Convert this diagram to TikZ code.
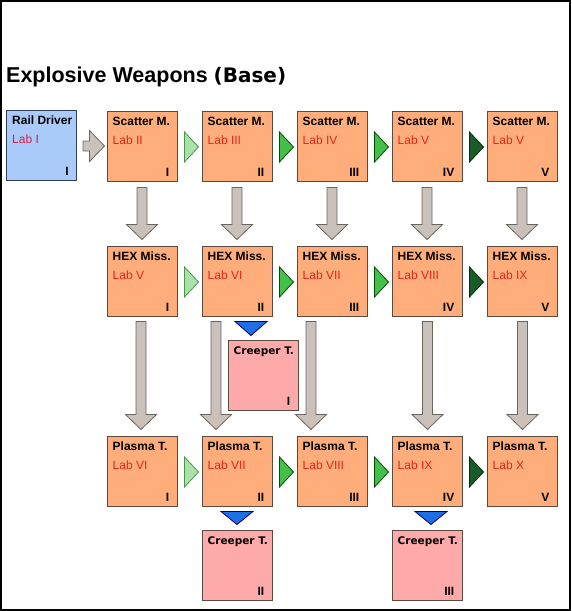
\documentclass[tikz,border=0pt]{standalone}
\usepackage{fontspec}
\setmainfont{Liberation Sans}
\newfontfamily\heavyfont{DejaVu Sans}
\usetikzlibrary{calc}

\definecolor{boxorange}{HTML}{FFAD7A}
\definecolor{boxblue}{HTML}{AACBFA}
\definecolor{boxpink}{HTML}{FFAAAA}
\definecolor{boxline}{HTML}{5B4A3F}
\definecolor{blueline}{HTML}{2F3E5C}
\definecolor{labred}{HTML}{E2261B}
\definecolor{labcrimson}{HTML}{D41E48}
\definecolor{arrowgray}{HTML}{C9C1BA}
\definecolor{arrowline}{HTML}{6B6560}
\definecolor{greenlight}{HTML}{A8E2A8}
\definecolor{greenmid}{HTML}{44C04A}
\definecolor{greendark}{HTML}{1B5A2A}
\definecolor{tierblue}{HTML}{1E6EE6}

\tikzset{
  orangebox/.style={draw=boxline, fill=boxorange, line width=1, minimum width=70, minimum height=70, inner sep=0},
  bluebox/.style={orangebox, draw=blueline, fill=boxblue},
  pinkbox/.style={orangebox, fill=boxpink},
  headtext/.style={inner sep=0, font=\bfseries\fontsize{12}{14}\selectfont},
  labtext/.style={inner sep=0, text=labred, font=\fontsize{12}{14}\selectfont},
  tiertext/.style={inner sep=0, font=\bfseries\fontsize{12}{14}\selectfont},
  blockarrow/.style={draw=arrowline, fill=arrowgray, line width=0.8, to path={
      ($(\tikztotarget)!15pt!(\tikztostart)$) coordinate (bah)
      ($(\tikztostart)!5pt!90:(\tikztotarget)$) -- ($(bah)!5pt!90:(\tikztotarget)$)
      -- ($(bah)!15.5pt!90:(\tikztotarget)$) -- (\tikztotarget)
      -- ($(bah)!15.5pt!-90:(\tikztotarget)$) -- ($(bah)!5pt!-90:(\tikztotarget)$)
      -- ($(\tikztostart)!5pt!-90:(\tikztotarget)$) -- cycle}},
  tri/.style={line width=0.8, to path={
      ($(\tikztostart)!#1!90:(\tikztotarget)$) -- (\tikztotarget)
      -- ($(\tikztostart)!#1!-90:(\tikztotarget)$) -- cycle}},
  tri/.default=15pt,
  stepa/.style={tri, draw=green!40!black!70, fill=greenlight},
  stepb/.style={tri, draw=green!30!black, fill=greenmid},
  stepc/.style={tri, draw=black!80!green, fill=greendark},
  creepstep/.style={tri=16pt, draw=blue!40!black, fill=tierblue}
}

% style, name, position, title, lab, tier
\newcommand\techbox[6]{%
  \node[#1] (#2) at (#3) {};
  \node[headtext, anchor=base west] (#2t) at ($(#2.north west)+(6,15)$) {#4};
  \node[labtext, anchor=base west] (#2l) at ($(#2.north west)+(6,34)$) {#5};
  \node[tiertext, anchor=base east] (#2n) at ($(#2.south east)+(-8,-5)$) {#6};
}
\newcommand\creeper{\heavyfont\bfseries\fontsize{10.5}{12}\selectfont Creeper T.}

\begin{document}
\begin{tikzpicture}[x=1pt, y=-1pt]
  \useasboundingbox (0,0) rectangle (571,611);
  \draw[line width=2] (1,1) rectangle (570,610);

  \node[anchor=base west, inner sep=0, font=\bfseries\fontsize{21.5}{24}\selectfont] (title) at (6,82)
    {Explosive Weapons {\heavyfont\fontsize{20}{24}\selectfont(Base)}};

  % first row
  \techbox{bluebox}{rail}{41.5,145}{Rail Driver}{\color{labcrimson}Lab I}{I}
  \techbox{orangebox}{sc1}{142,146}{Scatter M.}{Lab II}{I}
  \techbox{orangebox}{sc2}{237,146}{Scatter M.}{Lab III}{II}
  \techbox{orangebox}{sc3}{332,146}{Scatter M.}{Lab IV}{III}
  \techbox{orangebox}{sc4}{427,146}{Scatter M.}{Lab V}{IV}
  \techbox{orangebox}{sc5}{522,146}{Scatter M.}{Lab V}{V}

  % second row
  \techbox{orangebox}{hex1}{142,281}{HEX Miss.}{Lab V}{I}
  \techbox{orangebox}{hex2}{237,281}{HEX Miss.}{Lab VI}{II}
  \techbox{orangebox}{hex3}{332,281}{HEX Miss.}{Lab VII}{III}
  \techbox{orangebox}{hex4}{427,281}{HEX Miss.}{Lab VIII}{IV}
  \techbox{orangebox}{hex5}{522,281}{HEX Miss.}{Lab IX}{V}
  \techbox{pinkbox}{cr1}{263,375}{\creeper}{}{I}

  % third row
  \techbox{orangebox}{pl1}{142,471}{Plasma T.}{Lab VI}{I}
  \techbox{orangebox}{pl2}{237,471}{Plasma T.}{Lab VII}{II}
  \techbox{orangebox}{pl3}{332,471}{Plasma T.}{Lab VIII}{III}
  \techbox{orangebox}{pl4}{427,471}{Plasma T.}{Lab IX}{IV}
  \techbox{orangebox}{pl5}{522,471}{Plasma T.}{Lab X}{V}
  \techbox{pinkbox}{cr2}{237,565}{\creeper}{}{II}
  \techbox{pinkbox}{cr3}{427,565}{\creeper}{}{III}

  % gray arrows
  \draw[blockarrow] ($(rail.east)+(6,1)$) to ($(sc1.west)+(-2,0)$);
  \draw[blockarrow] ($(sc1.south)+(0,6)$) to ($(hex1.north)+(0,-6)$);
  \draw[blockarrow] ($(sc2.south)+(0,6)$) to ($(hex2.north)+(0,-6)$);
  \draw[blockarrow] ($(sc3.south)+(0,6)$) to ($(hex3.north)+(0,-6)$);
  \draw[blockarrow] ($(sc4.south)+(0,6)$) to ($(hex4.north)+(0,-6)$);
  \draw[blockarrow] ($(sc5.south)+(0,6)$) to ($(hex5.north)+(0,-6)$);
  \draw[blockarrow] ($(hex1.south)+(-1,5)$) to ($(pl1.north)+(-1,-6)$);
  \draw[blockarrow] ($(hex2.south)+(-21,5)$) to ($(pl2.north)+(-21,-6)$);
  \draw[blockarrow] ($(hex3.south)+(-21,5)$) to ($(pl3.north)+(-21,-6)$);
  \draw[blockarrow] ($(hex4.south)+(0.5,5)$) to ($(pl4.north)+(0.5,-6)$);
  \draw[blockarrow] ($(hex5.south)+(0.5,5)$) to ($(pl5.north)+(0.5,-6)$);

  % green steps
  \draw[stepa] ($(sc1.east)+(7,1)$) to ($(sc2.west)+(-3,1)$);
  \draw[stepb] ($(sc2.east)+(7,1)$) to ($(sc3.west)+(-3,1)$);
  \draw[stepb] ($(sc3.east)+(7,1)$) to ($(sc4.west)+(-3,1)$);
  \draw[stepc] ($(sc4.east)+(7,1)$) to ($(sc5.west)+(-3,1)$);
  \draw[stepa] ($(hex1.east)+(7,1)$) to ($(hex2.west)+(-3,1)$);
  \draw[stepb] ($(hex2.east)+(7,1)$) to ($(hex3.west)+(-3,1)$);
  \draw[stepb] ($(hex3.east)+(7,1)$) to ($(hex4.west)+(-3,1)$);
  \draw[stepc] ($(hex4.east)+(7,1)$) to ($(hex5.west)+(-3,1)$);
  \draw[stepa] ($(pl1.east)+(7,1)$) to ($(pl2.west)+(-3,1)$);
  \draw[stepb] ($(pl2.east)+(7,1)$) to ($(pl3.west)+(-3,1)$);
  \draw[stepb] ($(pl3.east)+(7,1)$) to ($(pl4.west)+(-3,1)$);
  \draw[stepc] ($(pl4.east)+(7,1)$) to ($(pl5.west)+(-3,1)$);

  % blue steps
  \draw[creepstep] ($(hex2.south)+(14,5)$) to ($(cr1.north)+(-12,-4)$);
  \draw[creepstep] ($(pl2.south)+(0,5)$) to ($(cr2.north)+(0,-5)$);
  \draw[creepstep] ($(pl4.south)+(4,5)$) to ($(cr3.north)+(4,-5)$);
\end{tikzpicture}
\end{document}
